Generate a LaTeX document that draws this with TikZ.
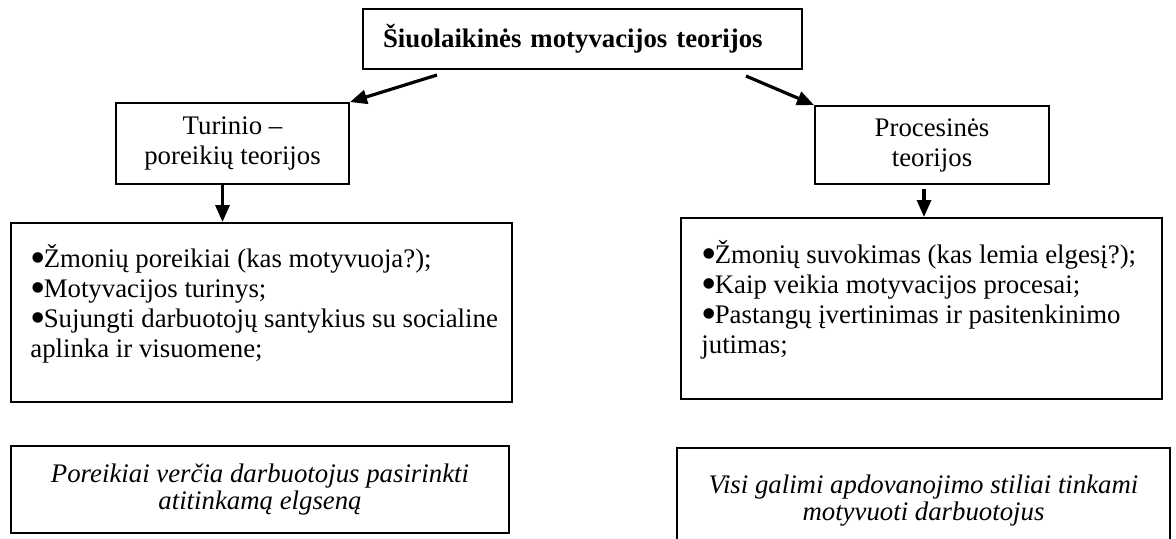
\documentclass[tikz,border=0pt]{standalone}
\usepackage{fontspec}
\setmainfont{Liberation Serif}
\usetikzlibrary{arrows.meta}

% round list mark
\newcommand{\blt}{\smash{\raisebox{-2.4pt}{\fontsize{22}{15}\selectfont •}}\kern-1pt}

\begin{document}
\begin{tikzpicture}[x=0.5pt, y=-0.5pt, font=\fontsize{13.4}{15}\selectfont,
  box/.style={draw, line width=1pt, inner sep=0pt},
  note/.style={box, align=center, font=\fontsize{13.4}{13.5}\selectfont\itshape},
  arr/.style={line width=1.6pt, -{Triangle[length=8.5pt,width=7pt]}}]
% page in pixel units, y pointing down
\useasboundingbox (0,0) rectangle (1176,538);
\clip (0,0) rectangle (1176,538);

% title
\node[box, inner xsep=10pt, minimum width=219.5pt, minimum height=30pt, text width=199.5pt, align=left,
  font=\fontsize{13.4}{15}\selectfont\bfseries] (title) at (582.5,39) {Šiuolaikinės motyvacijos teorijos};

% the two groups
\node[box, minimum width=116.5pt, minimum height=40.5pt, align=center] (content) at (232.5,143.5) {Turinio –\\poreikių teorijos};
\node[box, minimum width=117pt, minimum height=39pt, align=center] (process) at (932,145) {Procesinės\\teorijos};

% what each group looks at
\node[box, minimum width=250.5pt, minimum height=89.5pt] (contentlist) at (261.5,312.5) {};
\node[anchor=north west, inner sep=0pt, align=left] (contenttext) at (30,244)
  {\blt Žmonių poreikiai (kas motyvuoja?);\\\blt Motyvacijos turinys;\\\blt Sujungti darbuotojų santykius su socialine\\aplinka ir visuomene;};
\node[box, minimum width=240.5pt, minimum height=90.5pt] (processlist) at (921.5,308.5) {};
\node[anchor=north west, inner sep=0pt, align=left] (processtext) at (701,240)
  {\blt Žmonių suvokimas (kas lemia elgesį?);\\\blt Kaip veikia motyvacijos procesai;\\\blt Pastangų įvertinimas ir pasitenkinimo\\jutimas;};

% conclusions
\node[note, minimum width=249pt, minimum height=43.5pt] (contentnote) at (260,489.5) {Poreikiai verčia darbuotojus pasirinkti\\atitinkamą elgseną};
\node[note, minimum width=246.5pt, minimum height=53pt] (processnote) at (923.5,501) {Visi galimi apdovanojimo stiliai tinkami\\motyvuoti darbuotojus};

% arrows
\draw[arr] ([shift={(75,5)}]title.south west) -- (content.north east);
\draw[arr] ([shift={(-57,6)}]title.south east) -- (process.north west);
\draw[arr] ([xshift=-5pt]content.south) -- ([xshift=-5pt]content.south |- contentlist.north);
\draw[arr] ([shift={(-8,4)}]process.south) -- ([xshift=-4pt]process.south |- processlist.north);
\end{tikzpicture}
\end{document}
